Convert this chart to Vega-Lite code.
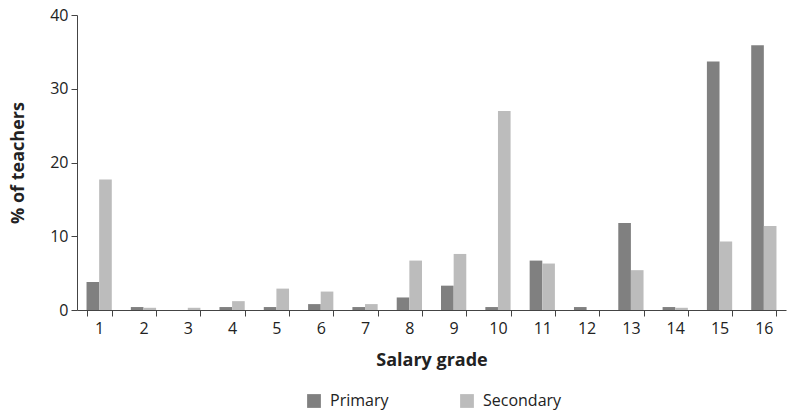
{
  "$schema": "https://vega.github.io/schema/vega-lite/v6.json",
  "autosize": "none",
  "width": 709,
  "height": 295,
  "padding": {"left": 77, "top": 15, "right": 3, "bottom": 103},
  "background": "white",
  "config": {
    "font": "Open Sans",
    "view": {"stroke": null},
    "axis": {"domainColor": "#444444", "tickColor": "#444444", "labelColor": "#222222", "titleColor": "#222222"}
  },
  "data": {
    "values": [
      {"grade": "1", "type": "Primary", "pct": 3.8},
      {"grade": "1", "type": "Secondary", "pct": 17.7},
      {"grade": "2", "type": "Primary", "pct": 0.4},
      {"grade": "2", "type": "Secondary", "pct": 0.3},
      {"grade": "3", "type": "Primary", "pct": 0},
      {"grade": "3", "type": "Secondary", "pct": 0.3},
      {"grade": "4", "type": "Primary", "pct": 0.4},
      {"grade": "4", "type": "Secondary", "pct": 1.2},
      {"grade": "5", "type": "Primary", "pct": 0.4},
      {"grade": "5", "type": "Secondary", "pct": 2.9},
      {"grade": "6", "type": "Primary", "pct": 0.8},
      {"grade": "6", "type": "Secondary", "pct": 2.5},
      {"grade": "7", "type": "Primary", "pct": 0.4},
      {"grade": "7", "type": "Secondary", "pct": 0.8},
      {"grade": "8", "type": "Primary", "pct": 1.7},
      {"grade": "8", "type": "Secondary", "pct": 6.7},
      {"grade": "9", "type": "Primary", "pct": 3.3},
      {"grade": "9", "type": "Secondary", "pct": 7.6},
      {"grade": "10", "type": "Primary", "pct": 0.4},
      {"grade": "10", "type": "Secondary", "pct": 27.0},
      {"grade": "11", "type": "Primary", "pct": 6.7},
      {"grade": "11", "type": "Secondary", "pct": 6.3},
      {"grade": "12", "type": "Primary", "pct": 0.4},
      {"grade": "12", "type": "Secondary", "pct": 0},
      {"grade": "13", "type": "Primary", "pct": 11.8},
      {"grade": "13", "type": "Secondary", "pct": 5.4},
      {"grade": "14", "type": "Primary", "pct": 0.4},
      {"grade": "14", "type": "Secondary", "pct": 0.3},
      {"grade": "15", "type": "Primary", "pct": 33.7},
      {"grade": "15", "type": "Secondary", "pct": 9.3},
      {"grade": "16", "type": "Primary", "pct": 35.9},
      {"grade": "16", "type": "Secondary", "pct": 11.4}
    ]
  },
  "mark": {"type": "bar"},
  "encoding": {
    "x": {
      "field": "grade", "type": "ordinal", "sort": null,
      "scale": {"paddingInner": 0.43, "paddingOuter": 0.215},
      "axis": {"title": "Salary grade", "labelAngle": 0, "tickBand": "extent", "labelFontSize": 16, "titleFontSize": 18, "titleFontWeight": "bold", "labelPadding": 4, "titlePadding": 15, "tickSize": 6}
    },
    "xOffset": {"field": "type", "type": "nominal", "sort": ["Primary", "Secondary"]},
    "y": {
      "field": "pct", "type": "quantitative",
      "scale": {"domain": [0, 40]},
      "axis": {"title": "% of teachers", "values": [0, 10, 20, 30, 40], "grid": false, "labelFontSize": 16, "titleFontSize": 18, "titleFontWeight": "bold", "tickSize": 6, "labelPadding": 3, "titlePadding": 22}
    },
    "color": {
      "field": "type", "type": "nominal",
      "scale": {"domain": ["Primary", "Secondary"], "range": ["#808080", "#bcbcbc"]},
      "legend": {"title": null, "orient": "none", "legendX": 229, "legendY": 378, "direction": "horizontal", "symbolType": "square", "symbolSize": 190, "symbolStrokeWidth": 0, "labelFontSize": 16, "columnPadding": 70, "labelOffset": 8, "labelColor": "#222222"}
    }
  }
}
